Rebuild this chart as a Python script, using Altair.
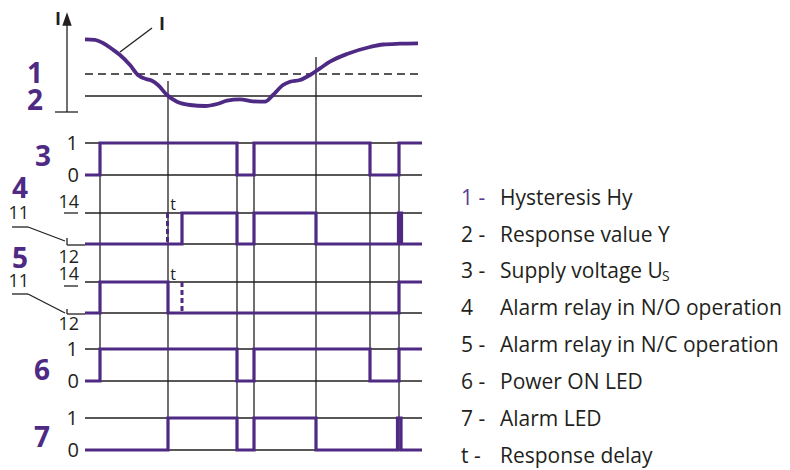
import altair as alt
import pandas as pd

PURPLE = "#4e2a84"
INK = "#231f20"
FONT = "Open Sans"

# ---------------- data ----------------
# measured current I (units above the axis base) over time
curve_t = [85, 95, 103, 112, 120, 130, 138, 146, 152, 158, 167, 177, 190, 205, 217, 227,
           240, 253, 265, 273, 283, 290, 300, 310, 320, 330, 347, 370, 383, 400, 418]
curve_I = [72.7, 72.2, 69, 63, 57, 47, 37, 33, 31.3, 27, 17, 10.3, 7, 6, 8, 11.3,
           12.7, 10.7, 10.3, 17, 27, 30.3, 32, 37, 43.7, 50.3, 58, 65, 67.5, 68.3, 68.7]
hysteresis_I = 38
response_I = 16

# switching states (time, state)
supply_t = [85, 100, 237, 254, 370, 399, 422]
supply_s = [0, 1, 0, 1, 0, 1, 1]
relay_no_t = [85, 182, 237, 254, 316, 398.5, 401.5, 422]
relay_no_s = [0, 1, 0, 1, 0, 1, 0, 0]
relay_nc_t = [85, 100, 168, 399, 422]
relay_nc_s = [0, 1, 0, 1, 1]
power_led_t = [85, 100, 237, 254, 370, 399, 422]
power_led_s = [0, 1, 0, 1, 0, 1, 1]
alarm_led_t = [85, 168, 237, 254, 316, 397.5, 401, 422]
alarm_led_s = [0, 1, 0, 1, 0, 1, 0, 0]

# event markers (time)
event_t = [100, 168, 237, 254, 316, 370, 399]

legend_num = ["1 -", "2 -", "3 -", "4", "5 -", "6 -", "7 -", "t -"]
legend_txt = ["Hysteresis Hy", "Response value Y", "Supply voltage U", "Alarm relay in N/O operation",
              "Alarm relay in N/C operation", "Power ON LED", "Alarm LED", "Response delay"]

# ---------------- layout ----------------
T0, T1 = 85, 422
BASE = 112  # axis base of the current plot
rows = {3: (143, 175), 4: (213, 244), 5: (282, 313), 6: (349, 381), 7: (418, 450)}
event_top = [143, 81, 143, 143, 57, 143, 143]
event_bot = [381, 450, 450, 450, 450, 381, 450]

xs = alt.Scale(domain=[8, 782], nice=False, zero=False)
ys = alt.Scale(domain=[8, 470], nice=False, zero=False, reverse=True)


def enc(**kw):
    e = dict(x=alt.X("x:Q", scale=xs, axis=None), y=alt.Y("y:Q", scale=ys, axis=None))
    e.update(kw)
    return e


# black rules
rules = []
for r, (hi, lo) in rows.items():
    rules.append((T0, hi, T1, hi))
    rules.append((T0, lo, T1, lo))
ry = BASE - response_I
rules.append((T0, ry, T1, ry))
for t, a, b in zip(event_t, event_top, event_bot):
    rules.append((t, a, t, b))
rules += [
    (67, BASE, 67, 22), (55, BASE, 78, BASE),          # current axis
    (120, 52, 152, 28),                                 # leader to "I"
    (64, 213, 78, 213), (64, 286, 78, 286),             # 14 underlines
    (12, 227, 28, 227), (28, 227, 65, 241), (67, 238, 67, 245), (67, 245, 85, 245),
    (12, 294, 28, 294), (28, 294, 65, 313), (67, 309, 67, 314), (67, 314, 85, 314),
]
rdf = pd.DataFrame(rules, columns=["x", "y", "x2", "y2"])
black = alt.Chart(rdf).mark_rule(color=INK, strokeWidth=1.3).encode(
    **enc(x2="x2:Q", y2="y2:Q"))

hy = BASE - hysteresis_I
dashed = alt.Chart(pd.DataFrame([(T0, hy, T1, hy)], columns=["x", "y", "x2", "y2"])).mark_rule(
    color=INK, strokeWidth=1.3, strokeDash=[8, 5]).encode(**enc(x2="x2:Q", y2="y2:Q"))

# current curve
cdf = pd.DataFrame({"x": curve_t, "y": [BASE - v for v in curve_I]})
curve = alt.Chart(cdf).mark_line(color=PURPLE, strokeWidth=3.8, interpolate="monotone").encode(**enc())

# signals
sig = []
for r, (tt, ss) in {3: (supply_t, supply_s), 4: (relay_no_t, relay_no_s), 5: (relay_nc_t, relay_nc_s),
                    6: (power_led_t, power_led_s), 7: (alarm_led_t, alarm_led_s)}.items():
    hi, lo = rows[r]
    for i, (t, s) in enumerate(zip(tt, ss)):
        sig.append({"row": r, "i": i, "x": t, "y": hi if s else lo})
sdf = pd.DataFrame(sig)
signals = alt.Chart(sdf).mark_line(color=PURPLE, strokeWidth=3.2, interpolate="step-after",
                                   strokeJoin="miter").encode(
    **enc(detail="row:N", order="i:Q"))

ddf = pd.DataFrame([(167.5, 213, 167.5, 244), (182, 282, 182, 313)], columns=["x", "y", "x2", "y2"])
dotted = alt.Chart(ddf).mark_rule(color=PURPLE, strokeWidth=3, strokeDash=[5, 3]).encode(
    **enc(x2="x2:Q", y2="y2:Q"))

arrow = alt.Chart(pd.DataFrame({"x": [67], "y": [19]})).mark_point(
    shape="M0,-1L0.7,1L-0.7,1Z", filled=True, color=INK, opacity=1, size=180).encode(**enc())


def text_layer(items, **mk):
    df = pd.DataFrame(items, columns=["x", "y", "text", "color"])
    return alt.Chart(df).mark_text(font=FONT, **mk).encode(
        **enc(text="text:N", color=alt.Color("color:N", scale=None)))


big = text_layer([(35, 75, "1", PURPLE), (35, 102, "2", PURPLE), (43, 158, "3", PURPLE),
                  (20, 190, "4", PURPLE), (20, 260, "5", PURPLE), (42, 372, "6", PURPLE),
                  (42, 439, "7", PURPLE)],
                 fontSize=28, fontWeight="bold", align="center", baseline="middle")

ticks01 = []
for r in (3, 6, 7):
    hi, lo = rows[r]
    ticks01 += [(78, hi + 1, "1", INK), (79, lo + 1, "0", INK)]
t01 = text_layer(ticks01, fontSize=20, align="right", baseline="middle")

contacts = text_layer([(79, 203, "14", INK), (79, 258, "12", INK), (79, 275, "14", INK), (79, 325, "12", INK),
                       (29, 214, "11", INK), (29, 282, "11", INK)],
                      fontSize=18, align="right", baseline="middle")

small = text_layer([(173, 205, "t", INK), (173, 275, "t", INK)], fontSize=16, align="center", baseline="middle")
ilab = text_layer([(58, 20, "I", INK), (162, 25, "I", INK)], fontSize=18, fontWeight="bold",
                  align="center", baseline="middle")

ly = [199, 236, 272, 309, 346, 383, 420, 457]
lnum = text_layer([(461, y, n, "#5a3a92" if i == 0 else INK) for i, (y, n) in enumerate(zip(ly, legend_num))],
                  fontSize=21, align="left", baseline="middle")
ltxt = text_layer([(500, y, s, INK) for y, s in zip(ly, legend_txt)],
                  fontSize=21, align="left", baseline="middle")
# subscript S of U_S
sub = text_layer([(662, 277, "S", INK)], fontSize=14, align="left", baseline="middle")

chart = alt.layer(black, dashed, curve, signals, dotted, arrow, big, t01, contacts, small, ilab,
                  lnum, ltxt, sub).properties(
    width=774, height=462, padding=0, autosize="none", background="white"
).configure_view(stroke=None)

chart.save("out.html", embed_options={"renderer": "svg", "actions": False})
